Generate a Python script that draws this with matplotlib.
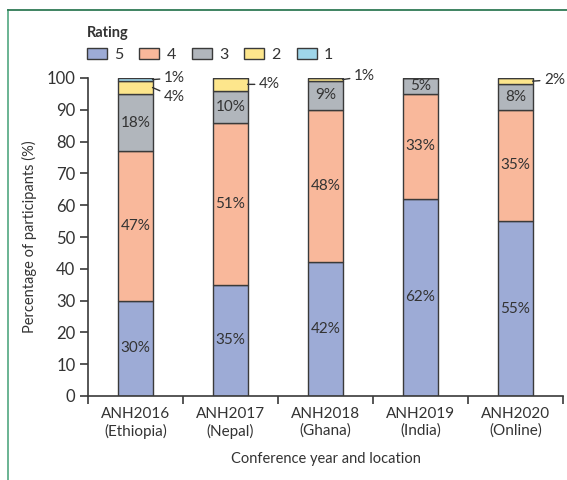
import matplotlib.pyplot as plt
from matplotlib.patches import Patch
from matplotlib.lines import Line2D

plt.rcParams['font.family'] = ['Lato', 'DejaVu Sans']

conferences = ['ANH2016\n(Ethiopia)', 'ANH2017\n(Nepal)', 'ANH2018\n(Ghana)',
               'ANH2019\n(India)', 'ANH2020\n(Online)']
ratings = ['5', '4', '3', '2', '1']
r5 = [30, 35, 42, 62, 55]
r4 = [47, 51, 48, 33, 35]
r3 = [18, 10, 9, 5, 8]
r2 = [4, 4, 1, 0, 2]
r1 = [1, 0, 0, 0, 0]
series = [r5, r4, r3, r2, r1]
colors = ['#9dabd6', '#f9b89b', '#b1b6bc', '#fde68c', '#9fd6ea']

# small segments labelled outside the bar: (bar index, rating index)
outside = [(0, 4), (0, 3), (1, 3), (2, 3), (4, 3)]
outside_y = {(0, 4): 100, (0, 3): 94, (1, 3): 98, (2, 3): 100.5, (4, 3): 99.5}

txt = '#333333'
edge = '#3a3a3a'

fig = plt.figure(figsize=(5.67, 4.80), dpi=100)
ax = fig.add_axes([0.155, 0.175, 0.838, 0.6625])

x = list(range(len(conferences)))
w = 0.36
bottom = [0] * len(x)
for k, vals in enumerate(series):
    ax.bar(x, vals, w, bottom=bottom, color=colors[k], edgecolor=edge, linewidth=1.0)
    for i, v in enumerate(vals):
        if v == 0:
            continue
        if k < 3:
            ax.text(i, bottom[i] + v / 2, f'{v}%', ha='center', va='center',
                    fontsize=11, color=txt)
        elif (i, k) in outside:
            ax.annotate(f'{v}%', xy=(i + w / 2, bottom[i] + v / 2),
                        xytext=(i + w / 2 + 0.12, outside_y[(i, k)]),
                        textcoords='data', ha='left', va='center',
                        fontsize=11, color=txt,
                        arrowprops=dict(arrowstyle='-', color=txt, lw=1.0,
                                        shrinkA=1, shrinkB=0))
    bottom = [b + v for b, v in zip(bottom, vals)]

ax.set_xlim(-0.5, 4.5)
ax.set_ylim(0, 100)
ax.set_yticks(range(0, 101, 10))
ax.set_xticks([i - 0.5 for i in range(6)])
ax.set_xticklabels([])
ax.set_xticks(x, minor=True)
ax.set_xticklabels(conferences, minor=True, fontsize=11, color=txt)
ax.tick_params(axis='x', which='minor', length=0, pad=8)
ax.tick_params(axis='x', which='major', length=6, width=1.2, color=edge)
ax.tick_params(axis='y', length=6, width=1.2, color=edge, labelsize=12,
               labelcolor=txt, pad=3)
for s in ['top', 'right']:
    ax.spines[s].set_visible(False)
for s in ['left', 'bottom']:
    ax.spines[s].set_linewidth(1.2)
    ax.spines[s].set_color(edge)

ax.set_ylabel('Percentage of participants (%)', fontsize=10.5, color=txt, labelpad=7)
ax.set_xlabel('Conference year and location', fontsize=10.5, color=txt, labelpad=10)

handles = [Patch(facecolor=c, edgecolor=edge, linewidth=1.0) for c in colors]
leg = fig.legend(handles, ratings, loc='upper left', bbox_to_anchor=(0.142, 0.96),
                 ncol=5, frameon=False, title='Rating', alignment='left',
                 fontsize=11.5, handlelength=1.25, handleheight=0.7,
                 handletextpad=0.45, columnspacing=1.0, borderaxespad=0)
leg.get_title().set_fontweight('bold')
leg.get_title().set_fontsize(10.5)
leg.get_title().set_color(txt)
for t in leg.get_texts():
    t.set_color(txt)

green = '#2f7a55'
fig.add_artist(Line2D([0.014, 0.014], [0, 0.979], color='#5fae8a', lw=1.3))
fig.add_artist(Line2D([0.014, 1.0], [0.979, 0.979], color=green, lw=1.3))

fig.savefig('out.png', dpi=100)
